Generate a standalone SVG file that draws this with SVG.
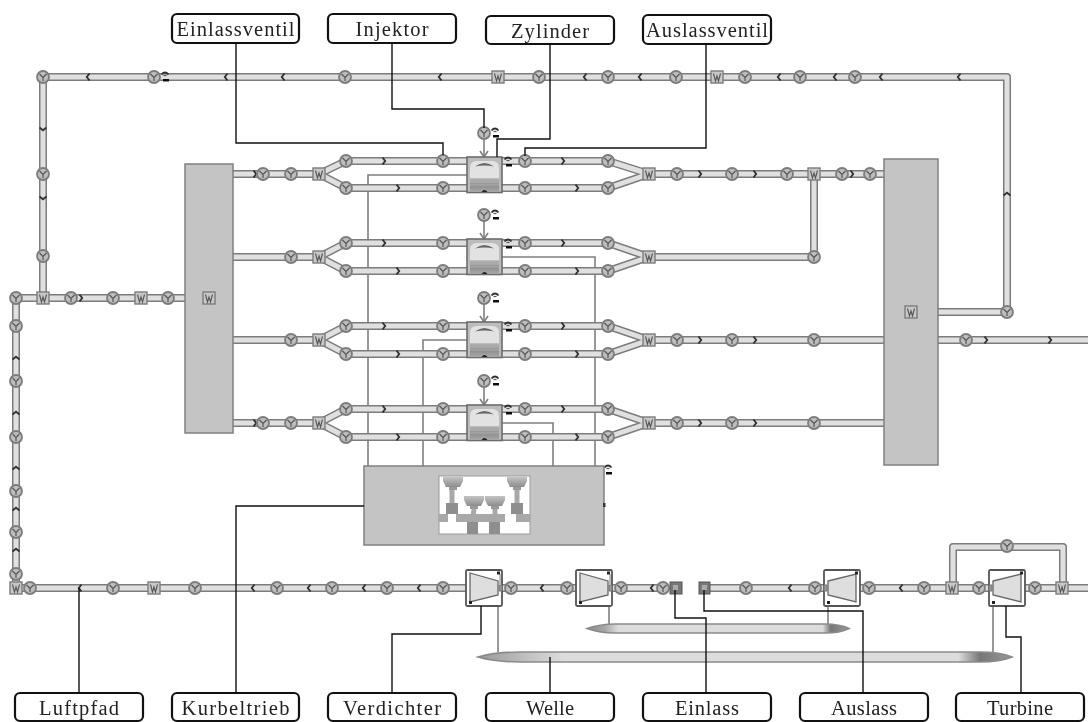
<svg xmlns="http://www.w3.org/2000/svg" width="1088" height="722" viewBox="0 0 1088 722">
<style>
.po{fill:none;stroke:#7c7c7c;stroke-width:8;stroke-linejoin:round}
.pi{fill:none;stroke:#e0e0e0;stroke-width:5;stroke-linejoin:round}
.sig{fill:none;stroke:#808080;stroke-width:1.6}
.call{fill:none;stroke:#111;stroke-width:1.4}
.lab rect{fill:#fff;stroke:#111;stroke-width:2.2}
.lab text{font-family:"Liberation Serif","Times New Roman",serif;font-size:20.5px;fill:#222;text-anchor:middle}
.pl{fill:#c4c4c4;stroke:#808080;stroke-width:1.5}
</style>
<defs>
<filter id="soft" x="-2%" y="-2%" width="104%" height="104%"><feGaussianBlur stdDeviation="0.55"/></filter>
<linearGradient id="pis" x1="0" y1="0" x2="0" y2="1"><stop offset="0" stop-color="#b0b0b0"/><stop offset="0.5" stop-color="#8e8e8e"/><stop offset="1" stop-color="#a8a8a8"/></linearGradient>
<linearGradient id="pst-g" x1="0" y1="0" x2="0" y2="1"><stop offset="0" stop-color="#c4c4c4"/><stop offset="1" stop-color="#8c8c8c"/></linearGradient>
<linearGradient id="shaftA" x1="0" y1="0" x2="1" y2="0"><stop offset="0" stop-color="#888"/><stop offset="0.07" stop-color="#a8a8a8"/><stop offset="0.12" stop-color="#dcdcdc"/><stop offset="0.9" stop-color="#dcdcdc"/><stop offset="0.93" stop-color="#777"/><stop offset="1" stop-color="#999"/></linearGradient>
<linearGradient id="shaftB" x1="0" y1="0" x2="1" y2="0"><stop offset="0" stop-color="#999"/><stop offset="0.1" stop-color="#c4c4c4"/><stop offset="0.16" stop-color="#dcdcdc"/><stop offset="0.9" stop-color="#dcdcdc"/><stop offset="0.94" stop-color="#777"/><stop offset="1" stop-color="#999"/></linearGradient>
<g id="v"><circle r="6" fill="#bdbdbd" stroke="#7c7c7c" stroke-width="1.8"/><path d="M-3.500 -3 L0 0.500 L3.500 -3 M0 0.500 V4" fill="none" stroke="#555" stroke-width="1.2"/></g>
<g id="j"><rect x="-6" y="-6" width="12" height="12" fill="#c8c8c8" stroke="#7c7c7c" stroke-width="1.4"/><path d="M-3.500 -3.500 L-1.500 4 L0 -1 L1.500 4 L3.500 -3.500" fill="none" stroke="#555" stroke-width="1.1"/></g>
<path id="ar" d="M-1.500 -3.500 L1.200 0 L-1.500 3.500" fill="none" stroke="#333" stroke-width="1.9"/>
<path id="al" d="M1.500 -3.500 L-1.200 0 L1.500 3.500" fill="none" stroke="#333" stroke-width="1.9"/>
<path id="au" d="M-3.500 1.500 L0 -1.200 L3.500 1.500" fill="none" stroke="#333" stroke-width="1.9"/>
<path id="ad" d="M-3.500 -1.500 L0 1.200 L3.500 -1.500" fill="none" stroke="#333" stroke-width="1.9"/>
<g id="sy"><path d="M-3.500 0.500 Q0 -3.500 3.500 0.500" fill="none" stroke="#333" stroke-width="1.8"/><path d="M-1.500 1.500 H1.500" stroke="#555" stroke-width="1.2"/><rect x="-2" y="5" width="6" height="2.500" fill="#111"/></g>
<g id="cyl"><rect x="0" y="0" width="35" height="35.500" fill="#bcbcbc" stroke="#6c6c6c" stroke-width="1.600"/><path d="M3 21 V11 Q3 4 10 4 H25 Q32 4 32 11 V21 Z" fill="#e2e2e2"/><path d="M8 9.500 Q17.500 2.500 27 9.500 Q17.500 7.500 8 9.500 Z" fill="#666"/><rect x="3" y="22" width="29" height="13" fill="url(#pis)"/><path d="M3 25 H32 M3 28 H32" stroke="#b8b8b8" stroke-width="0.8"/><path d="M14.500 35 Q17.500 31 20.500 35 Z" fill="#222"/></g>
<g id="comp"><rect width="36" height="36" rx="1.500" fill="#fff" stroke="#555" stroke-width="1.800"/><path d="M4 3 L32 11 V25 L4 32 Z" fill="#dedede" stroke="#666" stroke-width="1.300"/><rect x="31" y="1.500" width="3" height="3" fill="#222"/><rect x="3" y="31" width="3" height="3" fill="#222"/><path d="M34 4 V14 M33 15 H36 V21 H33 Z" fill="#999" stroke="#777"/></g>
<g id="turb"><rect width="36" height="36" rx="1.500" fill="#fff" stroke="#555" stroke-width="1.800"/><path d="M4 11 L32 4 V32 L4 25 Z" fill="#dedede" stroke="#666" stroke-width="1.300"/><rect x="31" y="1.500" width="3" height="3" fill="#222"/><rect x="3" y="31" width="3" height="3" fill="#222"/><path d="M0 15 H3 V21 H0 Z" fill="#999" stroke="#777"/></g>
<g id="pst"><path d="M-10 0 H10 V4 L7 10 H-7 L-10 4 Z" fill="url(#pst-g)"/><rect x="-4" y="10" width="8" height="3" fill="#999"/></g>
</defs>

<g id="connectors" filter="url(#soft)">
<g id="signals">
<path class="sig" d="M467 175 H368 V466 M502 257 H595 V466 M467 340 H423 V466 M502 423 H553 V466"/>
<path class="sig" d="M484 139 V157 M484 221 V239 M484 304 V322 M484 387 V405"/>
<path class="sig" d="M480 151 L484 157 L488 151 M480 233 L484 239 L488 233 M480 316 L484 322 L488 316 M480 399 L484 405 L488 399"/>
<path class="sig" d="M498 606 V652 M609 606 V625 M828 606 V625 M993 606 V652"/>
</g>
<g id="pipes">
<path id="pipe-outer" class="po" d="M43 298 V77 H1007 V312 H938 M16 298 H185 M16 298 V588 H466 M233 174 H319 L346 161 H467 M319 174 L346 188 H467 M233 257 H319 L346 243 H467 M319 257 L346 271 H467 M233 340 H319 L346 326 H467 M319 340 L346 354 H467 M233 423 H319 L346 409 H467 M319 423 L346 437 H467 M502 161 H608 L649 174 H884 M502 188 H608 L649 174 M502 243 H608 L649 257 M502 271 H608 L649 257 H814 V174 M502 326 H608 L649 340 H884 M502 354 H608 L649 340 M502 409 H608 L649 423 H884 M502 437 H608 L649 423 M938 340 H1092 V588 H1025 M502 588 H576 M612 588 H663 M710 588 H824 M860 588 H989 M953 588 V547 H1063 V588"/>
<path id="pipe-inner" class="pi" d="M43 298 V77 H1007 V312 H938 M16 298 H185 M16 298 V588 H466 M233 174 H319 L346 161 H467 M319 174 L346 188 H467 M233 257 H319 L346 243 H467 M319 257 L346 271 H467 M233 340 H319 L346 326 H467 M319 340 L346 354 H467 M233 423 H319 L346 409 H467 M319 423 L346 437 H467 M502 161 H608 L649 174 H884 M502 188 H608 L649 174 M502 243 H608 L649 257 M502 271 H608 L649 257 H814 V174 M502 326 H608 L649 340 H884 M502 354 H608 L649 340 M502 409 H608 L649 423 H884 M502 437 H608 L649 423 M938 340 H1092 V588 H1025 M502 588 H576 M612 588 H663 M710 588 H824 M860 588 H989 M953 588 V547 H1063 V588"/>
</g>
<g id="flow-arrows">
<use href="#al" x="88" y="77"/><use href="#al" x="226" y="77"/><use href="#al" x="283" y="77"/><use href="#al" x="440" y="77"/><use href="#al" x="585" y="77"/><use href="#al" x="640" y="77"/><use href="#al" x="779" y="77"/><use href="#al" x="835" y="77"/><use href="#al" x="881" y="77"/><use href="#al" x="959" y="77"/>
<use href="#ad" x="43" y="129"/><use href="#ad" x="43" y="198"/><use href="#au" x="1007" y="194"/>
<use href="#ar" x="81" y="298"/>
<use href="#au" x="16" y="358"/><use href="#au" x="16" y="413"/><use href="#au" x="16" y="468"/><use href="#au" x="16" y="509"/><use href="#au" x="16" y="550"/>
<use href="#al" x="80" y="588"/><use href="#al" x="253" y="588"/><use href="#al" x="309" y="588"/><use href="#al" x="364" y="588"/><use href="#al" x="419" y="588"/><use href="#al" x="542" y="588"/><use href="#al" x="652" y="588"/><use href="#al" x="790" y="588"/><use href="#al" x="901" y="588"/>
<use href="#ar" x="255" y="174"/><use href="#ar" x="255" y="423"/>
<use href="#ar" x="384" y="161"/><use href="#ar" x="398" y="188"/><use href="#ar" x="563" y="161"/><use href="#ar" x="577" y="188"/>
<use href="#ar" x="384" y="243"/><use href="#ar" x="398" y="271"/><use href="#ar" x="563" y="243"/><use href="#ar" x="577" y="271"/>
<use href="#ar" x="384" y="326"/><use href="#ar" x="398" y="354"/><use href="#ar" x="563" y="326"/><use href="#ar" x="577" y="354"/>
<use href="#ar" x="384" y="409"/><use href="#ar" x="398" y="437"/><use href="#ar" x="563" y="409"/><use href="#ar" x="577" y="437"/>
<use href="#ar" x="700" y="174"/><use href="#ar" x="755" y="174"/><use href="#ar" x="852" y="174"/>
<use href="#ar" x="700" y="340"/><use href="#ar" x="755" y="340"/><use href="#ar" x="700" y="423"/><use href="#ar" x="755" y="423"/>
<use href="#ar" x="986" y="340"/><use href="#ar" x="1050" y="340"/>
</g>
</g>

<g id="valves" filter="url(#soft)">
<use href="#v" x="43" y="77"/><use href="#v" x="154" y="77"/><use href="#v" x="345" y="77"/><use href="#v" x="539" y="77"/><use href="#v" x="608" y="77"/><use href="#v" x="676" y="77"/><use href="#v" x="745" y="77"/><use href="#v" x="800" y="77"/><use href="#v" x="855" y="77"/>
<use href="#v" x="43" y="174"/><use href="#v" x="43" y="256"/>
<use href="#v" x="16" y="298"/><use href="#v" x="71" y="298"/><use href="#v" x="113" y="298"/><use href="#v" x="168" y="298"/>
<use href="#v" x="16" y="326"/><use href="#v" x="16" y="381"/><use href="#v" x="16" y="437"/><use href="#v" x="16" y="491"/><use href="#v" x="16" y="532"/><use href="#v" x="16" y="574"/>
<use href="#v" x="30" y="588"/><use href="#v" x="113" y="588"/><use href="#v" x="195" y="588"/><use href="#v" x="277" y="588"/><use href="#v" x="332" y="588"/><use href="#v" x="387" y="588"/><use href="#v" x="443" y="588"/>
<use href="#v" x="511" y="588"/><use href="#v" x="567" y="588"/><use href="#v" x="621" y="588"/><use href="#v" x="663" y="588"/><use href="#v" x="746" y="588"/><use href="#v" x="815" y="588"/><use href="#v" x="869" y="588"/><use href="#v" x="924" y="588"/><use href="#v" x="979" y="588"/><use href="#v" x="1035" y="588"/><use href="#v" x="1007" y="546"/>
<use href="#v" x="263" y="174"/><use href="#v" x="291" y="174"/><use href="#v" x="291" y="257"/><use href="#v" x="291" y="340"/><use href="#v" x="263" y="423"/><use href="#v" x="291" y="423"/>
<use href="#v" x="346" y="161"/><use href="#v" x="346" y="188"/><use href="#v" x="443" y="161"/><use href="#v" x="443" y="188"/><use href="#v" x="525" y="161"/><use href="#v" x="525" y="188"/><use href="#v" x="608" y="161"/><use href="#v" x="608" y="188"/>
<use href="#v" x="346" y="243"/><use href="#v" x="346" y="271"/><use href="#v" x="443" y="243"/><use href="#v" x="443" y="271"/><use href="#v" x="525" y="243"/><use href="#v" x="525" y="271"/><use href="#v" x="608" y="243"/><use href="#v" x="608" y="271"/>
<use href="#v" x="346" y="326"/><use href="#v" x="346" y="354"/><use href="#v" x="443" y="326"/><use href="#v" x="443" y="354"/><use href="#v" x="525" y="326"/><use href="#v" x="525" y="354"/><use href="#v" x="608" y="326"/><use href="#v" x="608" y="354"/>
<use href="#v" x="346" y="409"/><use href="#v" x="346" y="437"/><use href="#v" x="443" y="409"/><use href="#v" x="443" y="437"/><use href="#v" x="525" y="409"/><use href="#v" x="525" y="437"/><use href="#v" x="608" y="409"/><use href="#v" x="608" y="437"/>
<use href="#v" x="677" y="174"/><use href="#v" x="732" y="174"/><use href="#v" x="787" y="174"/><use href="#v" x="842" y="174"/><use href="#v" x="870" y="174"/><use href="#v" x="814" y="257"/>
<use href="#v" x="677" y="340"/><use href="#v" x="732" y="340"/><use href="#v" x="814" y="340"/><use href="#v" x="677" y="423"/><use href="#v" x="732" y="423"/><use href="#v" x="814" y="423"/>
<use href="#v" x="966" y="340"/><use href="#v" x="1007" y="312"/>
<use href="#v" x="484" y="133"/><use href="#v" x="484" y="215"/><use href="#v" x="484" y="298"/><use href="#v" x="484" y="381"/>
</g>

<g id="junctions" filter="url(#soft)">
<use href="#j" x="498" y="77"/><use href="#j" x="717" y="77"/><use href="#j" x="43" y="298"/><use href="#j" x="141" y="298"/><use href="#j" x="16" y="588"/><use href="#j" x="154" y="588"/><use href="#j" x="952" y="588"/><use href="#j" x="1062" y="588"/>
<use href="#j" x="319" y="174"/><use href="#j" x="319" y="257"/><use href="#j" x="319" y="340"/><use href="#j" x="319" y="423"/>
<use href="#j" x="649" y="174"/><use href="#j" x="649" y="257"/><use href="#j" x="649" y="340"/><use href="#j" x="649" y="423"/><use href="#j" x="814" y="174"/>
</g>

<g id="symbols" filter="url(#soft)">
<use href="#sy" x="165" y="74"/><use href="#sy" x="495" y="130"/><use href="#sy" x="495" y="212"/><use href="#sy" x="495" y="295"/><use href="#sy" x="495" y="378"/>
<use href="#sy" x="508" y="159"/><use href="#sy" x="508" y="241"/><use href="#sy" x="508" y="324"/><use href="#sy" x="508" y="407"/><use href="#sy" x="608" y="467"/>
</g>

<g id="plenum-left" filter="url(#soft)"><rect class="pl" x="185" y="164" width="48" height="269"/><use href="#j" x="209" y="298"/></g>
<g id="plenum-right" filter="url(#soft)"><rect class="pl" x="884" y="159" width="54" height="306"/><use href="#j" x="911" y="312"/></g>

<g id="cylinder-1" filter="url(#soft)"><use href="#cyl" x="467" y="157"/></g>
<g id="cylinder-2" filter="url(#soft)"><use href="#cyl" x="467" y="239"/></g>
<g id="cylinder-3" filter="url(#soft)"><use href="#cyl" x="467" y="322"/></g>
<g id="cylinder-4" filter="url(#soft)"><use href="#cyl" x="467" y="405"/></g>

<g id="crank" filter="url(#soft)">
<rect class="pl" x="364" y="466" width="240" height="79"/>
<rect x="439" y="476" width="91" height="58" fill="#fff" stroke="#999"/>
<path d="M452 490 V506 M517 490 V506 M474 509 L472 526 M495 509 L495 526" stroke="#a8a8a8" stroke-width="5" fill="none"/>
<use href="#pst" x="453" y="477"/><use href="#pst" x="517" y="477"/><use href="#pst" x="474" y="496"/><use href="#pst" x="495" y="496"/>
<rect x="446" y="503" width="12" height="11" fill="#8e8e8e"/><rect x="511" y="503" width="12" height="11" fill="#8e8e8e"/>
<rect x="467" y="522" width="11" height="12" fill="#8e8e8e"/><rect x="489" y="522" width="11" height="12" fill="#8e8e8e"/>
<path d="M439 514 H448 V522 H439 Z M456 514 H466 V522 H456 Z M462 514 H482 V522 H462 Z M480 514 H487 V522 H480 Z M485 514 H505 V522 H485 Z M516 514 H530 V522 H516 Z" fill="#a8a8a8"/>
<rect x="603" y="503" width="2.500" height="4" fill="#333"/>
</g>

<g id="compressor-1" filter="url(#soft)"><use href="#comp" x="466" y="570"/></g>
<g id="compressor-2" filter="url(#soft)"><use href="#comp" x="576" y="570"/></g>
<g id="turbine-1" filter="url(#soft)"><use href="#turb" x="824" y="570"/></g>
<g id="turbine-2" filter="url(#soft)"><use href="#turb" x="989" y="570"/></g>
<g id="inlet" filter="url(#soft)"><rect x="670" y="582" width="12" height="12" fill="#777" stroke="#555"/><rect x="673" y="585" width="5" height="5" fill="#aaa"/></g>
<g id="outlet" filter="url(#soft)"><rect x="699" y="582" width="11" height="12" fill="#777" stroke="#555"/><rect x="702" y="585" width="5" height="5" fill="#aaa"/></g>

<g id="shaft-1" filter="url(#soft)"><path d="M587 628.500 Q600 624 615 624 H825 Q840 624 849 628.500 Q840 633 825 633 H615 Q600 633 587 628.500 Z" fill="url(#shaftA)" stroke="#8a8a8a" stroke-width="1.600"/></g>
<g id="shaft-2" filter="url(#soft)"><path d="M478 657 Q495 652 520 652 H980 Q1000 652 1012 657 Q1000 662 980 662 H520 Q495 662 478 657 Z" fill="url(#shaftB)" stroke="#8a8a8a" stroke-width="1.600"/></g>

<g id="callouts">
<path class="call" d="M236 43 V143 H443 V155"/>
<path class="call" d="M392 43 V109 H484 V128"/>
<path class="call" d="M550 43 V139 H497 V157"/>
<path class="call" d="M706 43 V148 H525 V156"/>
<path class="call" d="M79 693 V588"/>
<path class="call" d="M236 693 V506 H364"/>
<path class="call" d="M392 693 V634 H481 V606"/>
<path class="call" d="M550 693 V657"/>
<path class="call" d="M675 590 V618 H706 V693"/>
<path class="call" d="M704 590 V611 H863 V693"/>
<path class="call" d="M1006 606 V637 H1021 V693"/>
</g>

<g id="label-einlassventil" class="lab"><rect x="172" y="14" width="127" height="29" rx="5"/><text x="235.500" y="36" textLength="118" lengthAdjust="spacing">Einlassventil</text></g>
<g id="label-injektor" class="lab"><rect x="328" y="14" width="128" height="29" rx="5"/><text x="392" y="36" textLength="73" lengthAdjust="spacing">Injektor</text></g>
<g id="label-zylinder" class="lab"><rect x="486" y="16" width="128" height="28" rx="5"/><text x="550" y="38" textLength="78" lengthAdjust="spacing">Zylinder</text></g>
<g id="label-auslassventil" class="lab"><rect x="643" y="15" width="128" height="29" rx="5"/><text x="707" y="37" textLength="122" lengthAdjust="spacing">Auslassventil</text></g>
<g id="label-luftpfad" class="lab"><rect x="15" y="693" width="128" height="28" rx="5"/><text x="79" y="715" textLength="80" lengthAdjust="spacing">Luftpfad</text></g>
<g id="label-kurbeltrieb" class="lab"><rect x="172" y="693" width="127" height="28" rx="5"/><text x="235.500" y="715" textLength="108" lengthAdjust="spacing">Kurbeltrieb</text></g>
<g id="label-verdichter" class="lab"><rect x="328" y="693" width="128" height="28" rx="5"/><text x="392" y="715" textLength="98" lengthAdjust="spacing">Verdichter</text></g>
<g id="label-welle" class="lab"><rect x="486" y="693" width="128" height="28" rx="5"/><text x="550" y="715" textLength="48" lengthAdjust="spacing">Welle</text></g>
<g id="label-einlass" class="lab"><rect x="643" y="693" width="128" height="28" rx="5"/><text x="707" y="715" textLength="64" lengthAdjust="spacing">Einlass</text></g>
<g id="label-auslass" class="lab"><rect x="800" y="693" width="128" height="28" rx="5"/><text x="864" y="715" textLength="66" lengthAdjust="spacing">Auslass</text></g>
<g id="label-turbine" class="lab"><rect x="956" y="693" width="128" height="28" rx="5"/><text x="1020" y="715" textLength="66" lengthAdjust="spacing">Turbine</text></g>
</svg>
